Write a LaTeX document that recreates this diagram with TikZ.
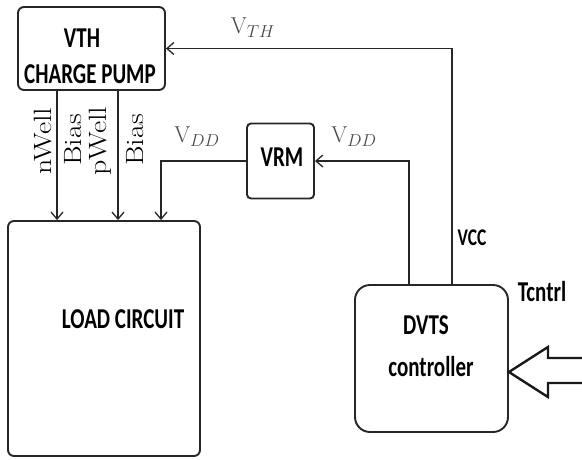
\documentclass[tikz,border=0pt]{standalone}
\usepackage{fontspec}
\usepackage{amsmath}
\usepackage{tikz}
\usetikzlibrary{arrows.meta, positioning, calc}
\newfontfamily\carlito{Carlito}

\begin{document}
\begin{tikzpicture}[
  x=1pt, y=-1pt,
  bloque/.style={rectangle, draw=black!85, line width=1.9pt, fill=white, inner sep=0pt},
  rotulo/.style={font=\carlito\bfseries\fontsize{21}{21}\selectfont, yscale=1.37, inner sep=0pt},
  rotulochico/.style={font=\carlito\bfseries\fontsize{17.5}{17.5}\selectfont, yscale=1.37, inner sep=0pt},
  etiqueta/.style={font=\fontsize{23}{23}\selectfont, text=black!72, inner sep=0pt},
  vertical/.style={font=\fontsize{25}{25}\selectfont, rotate=90, xscale=1.2, inner sep=0pt},
  fl/.style={-{Straight Barb[length=7pt, width=12pt]}, line width=1.3pt, black!85},
  flechota/.style={line width=2.4pt, black!90, line join=miter}
]
\useasboundingbox (0,0) rectangle (582,459);

% ---- Bloques ----
\node[bloque, rounded corners=6pt, minimum width=147pt, minimum height=83pt] (pump) at (91.5,48.5) {};
\node[bloque, rounded corners=4pt, minimum width=67pt, minimum height=75pt] (vrm) at (280.5,161) {};
\node[bloque, rounded corners=6pt, minimum width=192pt, minimum height=235pt] (load) at (104,338.5) {};
\node[bloque, rounded corners=15pt, minimum width=153pt, minimum height=147pt] (dvts) at (431.5,358.5) {};

% ---- Textos de los bloques ----
\node[rotulo] (tvth) at (82,38) {VTH};
\node[rotulo] (tcp) at (90,74) {CHARGE PUMP};
\node[rotulo] (tvrm) at (282,157) {VRM};
\node[rotulo] (tload) at (123,319) {LOAD CIRCUIT};
\node[rotulo] (tdvts) at (426,325) {DVTS};
\node[rotulo] (tctrl) at (431,367) {controller};
\node[rotulochico] (tvcc) at (472,238) {VCC};
\node[rotulo] (ttc) at (542,292) {Tcntrl};

% ---- Etiquetas de las senales ----
\node[etiqueta] (lvth) at (253,28) {$\mathrm{V}_{TH}$};
\node[etiqueta] (lvdda) at (197,137) {$\mathrm{V}_{DD}$};
\node[etiqueta] (lvddb) at (354,137) {$\mathrm{V}_{DD}$};
\node[vertical] (lnw) at (43.5,141) {nWell};
\node[vertical] (lba) at (73.5,140) {Bias};
\node[vertical] (lpw) at (100,141) {pWell};
\node[vertical] (lbb) at (135,140) {Bias};

% ---- Conexiones ----
\coordinate (xn) at (57,0);
\coordinate (xp) at (118,0);
\coordinate (xv) at (161,0);
\coordinate (xdd) at (409,0);
\coordinate (xcc) at (452,0);
\coordinate (ytc) at (0,372);
\draw[fl] (pump.south -| xn) -- (load.north -| xn);
\draw[fl] (pump.south -| xp) -- (load.north -| xp);
\draw[fl] (vrm.west) -| (load.north -| xv);
\draw[fl] (dvts.north -| xdd) |- (vrm.east);
\draw[fl] (dvts.north -| xcc) |- (pump.east);
\draw[flechota] (dvts.east |- ytc) ++(79,-14) -- ++(-40,0) -- ++(0,-11) -- (dvts.east |- ytc)
  -- ++(39,25) -- ++(0,-14) -- ++(40,0);
\end{tikzpicture}
\end{document}
